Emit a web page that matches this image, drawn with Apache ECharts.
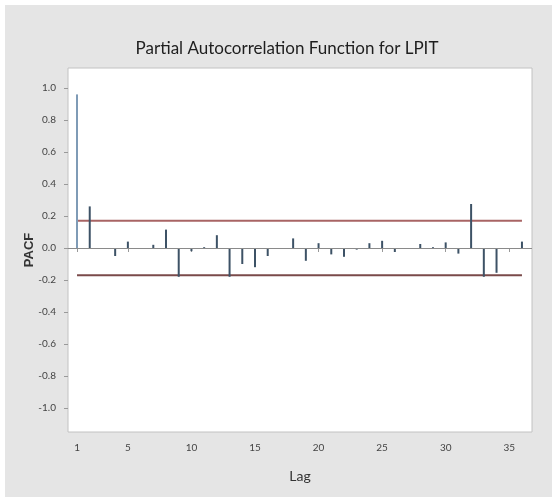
<!DOCTYPE html>
<html>
<head>
<meta charset="utf-8">
<script src="https://cdn.jsdelivr.net/npm/echarts@6/dist/echarts.min.js"></script>
<style>html,body{margin:0;padding:0;background:#fff;}#c{width:552px;height:497px;}</style>
</head>
<body>
<div id="c"></div>
<script>
// Data
const lags = [1,2,3,4,5,6,7,8,9,10,11,12,13,14,15,16,17,18,19,20,21,22,23,24,25,26,27,28,29,30,31,32,33,34,35,36];
const pacf = [0.96,0.26,0.00,-0.05,0.04,0.00,0.02,0.115,-0.18,-0.02,0.005,0.08,-0.18,-0.10,-0.12,-0.05,0.00,0.06,-0.08,0.03,-0.04,-0.055,-0.01,0.03,0.045,-0.025,0.00,0.025,0.005,0.035,-0.035,0.275,-0.18,-0.155,0.00,0.04];
const confLimit = 0.17;
const xTicks = [1,5,10,15,20,25,30,35];
const yTicks = [-1.0,-0.8,-0.6,-0.4,-0.2,0.0,0.2,0.4,0.6,0.8,1.0];

const chart = echarts.init(document.getElementById('c'));
const barData = lags.map((l, i) => {
  const item = { value: [l, pacf[i]] };
  if (i === 0) item.itemStyle = { color: '#7f9bb6' };
  return item;
});
const first = lags[0], last = lags[lags.length - 1];

chart.setOption({
  backgroundColor: '#ffffff',
  animation: false,
  graphic: [{
    type: 'rect', z: -10, silent: true,
    shape: { x: 5, y: 5, width: 560, height: 510 },
    style: { fill: '#e5e5e5' }
  }],
  title: {
    text: 'Partial Autocorrelation Function for LPIT',
    left: 282, top: 35, textAlign: 'center',
    textStyle: { fontFamily: 'Lato', fontSize: 17, fontWeight: 'normal', color: '#1e1e1e' }
  },
  grid: {
    left: 68, top: 68, width: 464, height: 364,
    show: true, backgroundColor: '#ffffff', borderColor: '#c2c2c2', borderWidth: 1
  },
  xAxis: {
    type: 'value', min: 0.29, max: 36.79,
    name: 'Lag', nameLocation: 'middle', nameGap: 37, nameMoveOverlap: false,
    nameTextStyle: { fontFamily: 'Lato', fontSize: 14, color: '#333' },
    axisLine: { show: false },
    splitLine: { show: false },
    axisTick: { show: true, length: 4, customValues: xTicks, lineStyle: { color: '#999' } },
    axisLabel: { customValues: xTicks, fontFamily: 'Liberation Sans Narrow, Lato', fontSize: 10, color: '#444', margin: 11 }
  },
  yAxis: {
    type: 'value', min: -1.15, max: 1.125,
    name: 'PACF', nameLocation: 'middle', nameGap: 32, nameMoveOverlap: false,
    nameTextStyle: { fontFamily: 'Liberation Sans', fontSize: 13, fontWeight: 'bold', color: '#333' },
    axisLine: { show: false },
    splitLine: { show: false },
    axisTick: { show: true, length: 4, customValues: yTicks, lineStyle: { color: '#999' } },
    axisLabel: { customValues: yTicks, formatter: v => v.toFixed(1), fontFamily: 'Liberation Sans Narrow, Lato', fontSize: 10, color: '#444', margin: 12 }
  },
  series: [
    {
      type: 'bar', data: barData, barWidth: 2,
      itemStyle: { color: '#3d5266' },
      markLine: {
        silent: true, symbol: 'none', label: { show: false },
        lineStyle: { color: '#8a8a8a', width: 1, type: 'solid' },
        data: [{ yAxis: 0 }]
      },
      z: 3
    },
    {
      type: 'line', data: [[first, confLimit], [last, confLimit]],
      symbol: 'none', lineStyle: { color: '#a86464', width: 2 }, z: 2
    },
    {
      type: 'line', data: [[first, -confLimit], [last, -confLimit]],
      symbol: 'none', lineStyle: { color: '#7a4a4a', width: 2 }, z: 2
    }
  ]
});
</script>
</body>
</html>
